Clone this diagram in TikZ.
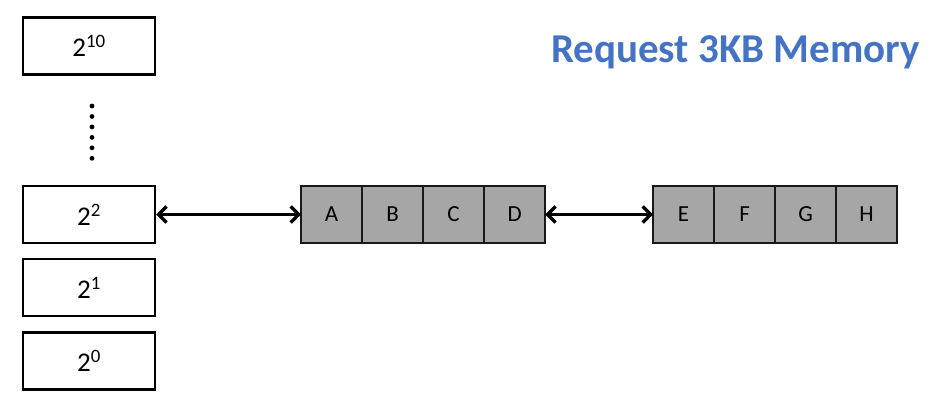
\documentclass[tikz,border=0pt]{standalone}
\usepackage{fontspec}
\setmainfont{Carlito}
\usetikzlibrary{positioning,arrows.meta}
\definecolor{titleblue}{RGB}{68,114,196}
\tikzset{
  bucket/.style={rectangle, draw=black, line width=2.2pt, minimum width=132pt, minimum height=57pt, font=\fontsize{27}{31}\selectfont},
  cell/.style={rectangle, draw=black!90, fill=black!35, line width=1.3pt, outer sep=0pt, minimum width=61pt, minimum height=57pt, font=\fontsize{23}{27}\selectfont},
  link/.style={{Straight Barb[length=8pt,width=16pt]}-{Straight Barb[length=8pt,width=16pt]}, line width=3.4pt}
}

\begin{document}
\begin{tikzpicture}[x=1pt,y=-1pt]
  \useasboundingbox (0,0) rectangle (931,405);

  % free lists, one bucket per block size
  \node[bucket] (b10) at (89,46) {2\textsuperscript{10}};
  \node[bucket] (b2) at (89,214.5) {2\textsuperscript{2}};
  \node[bucket] (b1) [below=14pt of b2] {2\textsuperscript{1}};
  \node[bucket] (b0) [below=14pt of b1] {2\textsuperscript{0}};

  % the gap between 2^10 and 2^2
  \foreach \k in {0,...,5}
    \fill (92,106+10.46*\k) circle (2.4pt);

  % first block of four pages
  \node[cell] (A) [right=145pt of b2] {A};
  \foreach \l [remember=\l as \p (initially A)] in {B,C,D}
    \node[cell] (\l) [right=0pt of \p] {\l};

  % second block of four pages
  \node[cell] (E) [right=108pt of D] {E};
  \foreach \l [remember=\l as \p (initially E)] in {F,G,H}
    \node[cell] (\l) [right=0pt of \p] {\l};

  \draw[link] (b2) -- (A);
  \draw[link] (D) -- (E);

  \node[anchor=base east, text=titleblue, font=\fontsize{41}{45}\selectfont\bfseries, inner sep=0pt] (title) at (920,62) {Request 3KB Memory};
\end{tikzpicture}
\end{document}
